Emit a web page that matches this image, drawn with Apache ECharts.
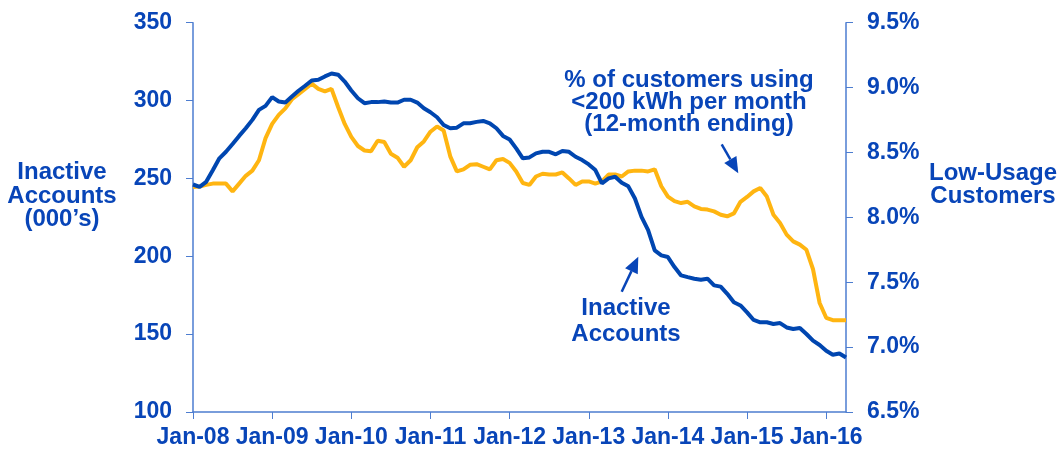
<!DOCTYPE html>
<html>
<head>
<meta charset="utf-8">
<script src="https://cdn.jsdelivr.net/npm/echarts@6/dist/echarts.min.js"></script>
<style>
  html, body { margin: 0; padding: 0; background: #fff; }
  #chart { width: 1061px; height: 452px; }
</style>
</head>
<body>
<div id="chart"></div>
<script>
// month labels Jan-08 .. Apr-16
const years = ['08', '09', '10', '11', '12', '13', '14', '15', '16'];
const monthNames = ['Jan', 'Feb', 'Mar', 'Apr', 'May', 'Jun', 'Jul', 'Aug', 'Sep', 'Oct', 'Nov', 'Dec'];
const months = [];
years.forEach(y => monthNames.forEach(m => months.push(m + '-' + y)));
months.length = 100;

// Inactive accounts (000's), left axis
const inactive = [
  246.1, 244.6, 247.8, 255.3, 262.9, 267.1, 272.1, 277.3, 282.2, 287.6, 294.0, 296.6,
  302.2, 299.4, 298.7, 302.6, 306.3, 309.5, 312.9, 313.3, 315.5, 317.4, 316.6, 312.2,
  306.5, 301.5, 298.3, 299.0, 299.0, 299.4, 298.7, 298.7, 300.5, 300.5, 298.7, 295.1,
  292.5, 289.3, 284.3, 282.2, 282.6, 285.4, 285.4, 286.3, 286.9, 285.4, 282.2, 277.3,
  275.0, 269.3, 262.9, 263.5, 266.1, 267.1, 267.1, 265.5, 267.6, 267.1, 263.9, 261.8,
  259.0, 255.4, 246.8, 250.0, 251.1, 247.2, 244.9, 237.1, 225.3, 216.8, 203.8, 200.6,
  199.5, 193.1, 187.7, 186.6, 185.6, 184.9, 185.6, 181.3, 180.5, 175.9, 170.5, 168.4,
  164.0, 159.1, 157.6, 157.6, 156.5, 157.1, 154.3, 153.3, 154.0, 150.1, 145.8, 143.0,
  139.3, 136.8, 137.6, 135.0
];

// % of customers using <200 kWh per month, right axis
const lowUsage = [
  8.234, 8.238, 8.25, 8.26, 8.26, 8.26, 8.20, 8.26, 8.32, 8.36, 8.44, 8.61,
  8.72, 8.79, 8.84, 8.91, 8.95, 8.99, 9.03, 8.99, 8.97, 8.99, 8.85, 8.72,
  8.62, 8.55, 8.515, 8.51, 8.59, 8.58, 8.49, 8.46, 8.39, 8.44, 8.54, 8.585,
  8.66, 8.70, 8.67, 8.47, 8.354, 8.37, 8.405, 8.41, 8.39, 8.37, 8.44, 8.45,
  8.42, 8.354, 8.265, 8.25, 8.315, 8.336, 8.33, 8.33, 8.346, 8.30, 8.25, 8.277,
  8.277, 8.26, 8.277, 8.33, 8.33, 8.315, 8.354, 8.36, 8.36, 8.354, 8.37, 8.24,
  8.16, 8.125, 8.11, 8.12, 8.085, 8.065, 8.06, 8.046, 8.02, 8.008, 8.03, 8.12,
  8.157, 8.2, 8.226, 8.16, 8.02, 7.957, 7.867, 7.815, 7.79, 7.75, 7.6, 7.34,
  7.226, 7.208, 7.208, 7.208
];

const txtBlue = '#0845b8';
const axisBlue = '#4d7dd0';
const font = '"Liberation Sans", Arial, sans-serif';

const chart = echarts.init(document.getElementById('chart'));

// small arrow: shaft + triangular head ending at (x2, y2)
function arrow(x1, y1, x2, y2) {
  const dx = x2 - x1, dy = y2 - y1, len = Math.sqrt(dx * dx + dy * dy);
  const ux = dx / len, uy = dy / len, hl = 16, hw = 7;
  const bx = x2 - ux * hl, by = y2 - uy * hl;
  return {
    type: 'group',
    children: [
      { type: 'line', shape: { x1: x1, y1: y1, x2: bx, y2: by }, style: { stroke: txtBlue, lineWidth: 2.5 } },
      { type: 'polygon', shape: { points: [[x2, y2], [bx - uy * hw, by + ux * hw], [bx + uy * hw, by - ux * hw]] }, style: { fill: txtBlue } }
    ]
  };
}

function label(text, x, y, lh) {
  return {
    type: 'text', x: x, y: y,
    style: { text: text, fill: txtBlue, font: 'bold 24px ' + font, textAlign: 'center', textVerticalAlign: 'middle', lineHeight: lh }
  };
}

const option = {
  animation: false,
  grid: { left: 193, right: 215, top: 22.7, bottom: 40 },
  xAxis: {
    type: 'category',
    data: months,
    boundaryGap: false,
    axisLine: { lineStyle: { color: axisBlue, width: 1.5 } },
    axisTick: { interval: 11, length: 7, lineStyle: { color: axisBlue } },
    axisLabel: { interval: 11, margin: 14, color: txtBlue, fontWeight: 'bold', fontSize: 23, fontFamily: font }
  },
  yAxis: [
    {
      type: 'value', min: 100, max: 350, interval: 50,
      splitLine: { show: false },
      axisLine: { show: true, lineStyle: { color: axisBlue, width: 1.5 } },
      axisTick: { show: true, length: 7, lineStyle: { color: axisBlue } },
      axisLabel: { margin: 21, color: txtBlue, fontWeight: 'bold', fontSize: 23, fontFamily: font }
    },
    {
      type: 'value', min: 6.5, max: 9.5, interval: 0.5, position: 'right',
      splitLine: { show: false },
      axisLine: { show: true, lineStyle: { color: axisBlue, width: 1.5 } },
      axisTick: { show: true, length: 7, lineStyle: { color: axisBlue } },
      axisLabel: { margin: 21, color: txtBlue, fontWeight: 'bold', fontSize: 23, fontFamily: font,
        formatter: v => v.toFixed(1) + '%' }
    }
  ],
  series: [
    {
      name: 'Low-Usage Customers', type: 'line', yAxisIndex: 1, data: lowUsage,
      symbol: 'none', lineStyle: { color: '#ffb511', width: 4 }
    },
    {
      name: 'Inactive Accounts', type: 'line', yAxisIndex: 0, data: inactive,
      symbol: 'none', lineStyle: { color: '#0046b0', width: 4 }
    }
  ],
  graphic: [
    label('Inactive\nAccounts\n(000\u2019s)', 62, 196, 23.5),
    label('Low-Usage\nCustomers', 993, 185, 22.7),
    label('% of customers using\n<200 kWh per month\n(12-month ending)', 689, 102, 22),
    label('Inactive\nAccounts', 626, 321, 26),
    arrow(721.7, 144.3, 738.3, 173.3),
    arrow(621.7, 291.7, 638.3, 256.7)
  ]
};

chart.setOption(option);
</script>
</body>
</html>
